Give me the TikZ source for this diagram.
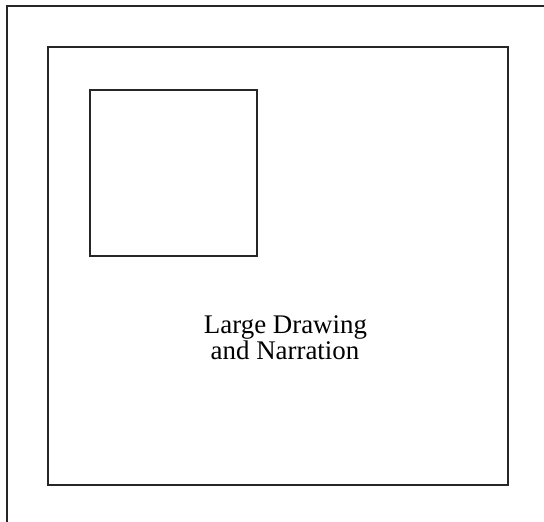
\documentclass[tikz,border=0pt]{standalone}
\usepackage{fontspec}
\setmainfont{Liberation Serif}
\begin{document}
\begin{tikzpicture}[x=1bp,y=-1bp,
  frame/.style={draw=black!85,line width=1.6bp},
  label/.style={font=\fontsize{27}{26}\selectfont,anchor=base,inner sep=0pt}]
\useasboundingbox (0,0) rectangle (544,522);
\coordinate (obl) at (7,523);
\coordinate (otl) at (7,6);
\coordinate (otr) at (545,6);
\draw[frame] (obl) -- (otl) -- (otr);
\draw[frame] (48,47) rectangle (508,485);
\draw[frame] (90,90) rectangle (257,256);
\node[label] (l1) at (285.5,333) {Large Drawing};
\node[label] (l2) at (285,359) {and Narration};
\end{tikzpicture}
\end{document}
